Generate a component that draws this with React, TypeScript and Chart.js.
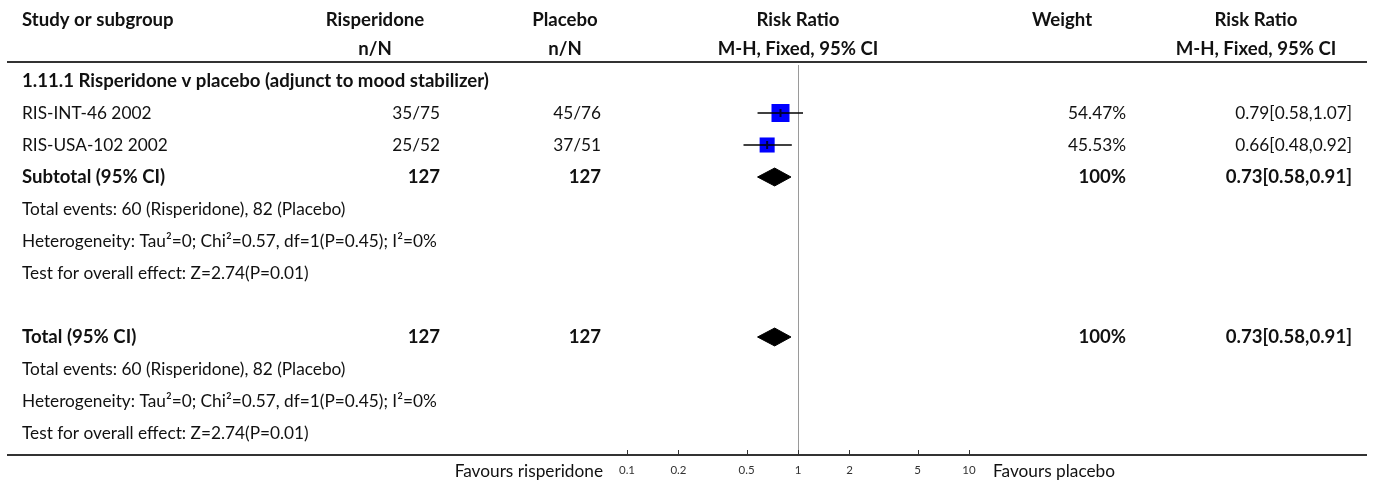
import { useEffect, useRef } from "react";
import { Chart, registerables } from "chart.js";

Chart.register(...registerables);

// ---------------- data ----------------
const headerTop = ["Study or subgroup", "Risperidone", "Placebo", "Risk Ratio", "Weight", "Risk Ratio"];
const headerSub = ["", "n/N", "n/N", "M-H, Fixed, 95% CI", "", "M-H, Fixed, 95% CI"];
const subgroupTitle = "1.11.1 Risperidone v placebo (adjunct to mood stabilizer)";

const studyNames = ["RIS-INT-46 2002", "RIS-USA-102 2002"];
const rispEvents = [35, 25];
const rispTotals = [75, 52];
const placEvents = [45, 37];
const placTotals = [76, 51];
const studyWeights = [54.47, 45.53];
const studyRR = [0.79, 0.66];
const studyLow = [0.58, 0.48];
const studyHigh = [1.07, 0.92];

const pooledLabels = ["Subtotal (95% CI)", "Total (95% CI)"];
const pooledRispN = [127, 127];
const pooledPlacN = [127, 127];
const pooledWeights = [100, 100];
const pooledRR = [0.73, 0.73];
const pooledLow = [0.58, 0.58];
const pooledHigh = [0.91, 0.91];

const summaryLines = [
  "Total events: 60 (Risperidone), 82 (Placebo)",
  "Heterogeneity: Tau\u00b2=0; Chi\u00b2=0.57, df=1(P=0.45); I\u00b2=0%",
  "Test for overall effect: Z=2.74(P=0.01)",
];

const tickValues = [0.1, 0.2, 0.5, 1, 2, 5, 10];
const favoursLabels = ["Favours risperidone", "Favours placebo"];

// ---------------- layout / style ----------------
const W = 1373;
const H = 484;
const FONT = '"Lato", "Noto Sans", sans-serif';
const TEXT_COLOR = "#111111";
const LINE_COLOR = "#333333";
const TITLE_ROW = 0;
const STUDY_ROWS = [1, 2];
const POOLED_ROWS = [3, 8];
const SUMMARY_ROWS = [
  [4, 5, 6],
  [9, 10, 11],
];
const COL_LEFT = 22;
const COL_RISP_RIGHT = 440;
const COL_PLAC_RIGHT = 601;
const COL_WEIGHT_RIGHT = 1126;
const COL_RR_RIGHT = 1352;
const HEADER_CENTERS = [0, 375, 565, 798, 1062, 1256];
const HEADER_Y1 = 20;
const HEADER_Y2 = 49;
const TOP_RULE_Y = 62;
const RULE_X0 = 7;
const RULE_X1 = 1367;
const FAV_LEFT_RIGHT = 603;
const FAV_RIGHT_LEFT = 993;
const FAV_Y = 471;
const TARGET_REG_WIDTH = 415; // width of the heterogeneity line
const TARGET_BOLD_WIDTH = 467; // width of the subgroup title
const BOX_PX_PER_WEIGHT = 18 / 54.47;
const DIAMOND_HALF = 0.28;

let regSize = 0;
let boldSize = 0;
function fitSizes(ctx: CanvasRenderingContext2D) {
  if (regSize) return;
  ctx.save();
  ctx.font = `100px ${FONT}`;
  const w1 = ctx.measureText(summaryLines[1]).width;
  ctx.font = `bold 100px ${FONT}`;
  const w2 = ctx.measureText(subgroupTitle).width;
  ctx.restore();
  regSize = (TARGET_REG_WIDTH / w1) * 100;
  boldSize = (TARGET_BOLD_WIDTH / w2) * 100;
}

const tablePlugin = {
  id: "forestTable",
  afterDraw(chart: any) {
    const ctx: CanvasRenderingContext2D = chart.ctx;
    const ys = chart.scales.y;
    const xs = chart.scales.x;
    const area = chart.chartArea;
    const rowY = (r: number) => ys.getPixelForValue(r);
    fitSizes(ctx);
    const reg = `${regSize.toFixed(2)}px ${FONT}`;
    const bold = `bold ${boldSize.toFixed(2)}px ${FONT}`;

    ctx.save();
    ctx.fillStyle = TEXT_COLOR;
    ctx.textBaseline = "middle";

    const text = (s: string, x: number, y: number, align: CanvasTextAlign, b: boolean) => {
      ctx.font = b ? bold : reg;
      ctx.textAlign = align;
      ctx.fillText(s, x, y);
    };

    // headers
    headerTop.forEach((h, i) => {
      if (i === 0) text(h, COL_LEFT, HEADER_Y1, "left", true);
      else text(h, HEADER_CENTERS[i], HEADER_Y1, "center", true);
    });
    headerSub.forEach((h, i) => {
      if (h) text(h, HEADER_CENTERS[i], HEADER_Y2, "center", true);
    });

    // subgroup title
    text(subgroupTitle, COL_LEFT, rowY(TITLE_ROW), "left", true);

    // studies
    studyNames.forEach((name, i) => {
      const y = rowY(STUDY_ROWS[i]);
      text(name, COL_LEFT, y, "left", false);
      text(`${rispEvents[i]}/${rispTotals[i]}`, COL_RISP_RIGHT, y, "right", false);
      text(`${placEvents[i]}/${placTotals[i]}`, COL_PLAC_RIGHT, y, "right", false);
      text(`${studyWeights[i].toFixed(2)}%`, COL_WEIGHT_RIGHT, y, "right", false);
      text(
        `${studyRR[i].toFixed(2)}[${studyLow[i].toFixed(2)},${studyHigh[i].toFixed(2)}]`,
        COL_RR_RIGHT,
        y,
        "right",
        false
      );
    });

    // pooled rows + summaries
    pooledLabels.forEach((lab, i) => {
      const y = rowY(POOLED_ROWS[i]);
      text(lab, COL_LEFT, y, "left", true);
      text(String(pooledRispN[i]), COL_RISP_RIGHT, y, "right", true);
      text(String(pooledPlacN[i]), COL_PLAC_RIGHT, y, "right", true);
      text(`${pooledWeights[i]}%`, COL_WEIGHT_RIGHT, y, "right", true);
      text(
        `${pooledRR[i].toFixed(2)}[${pooledLow[i].toFixed(2)},${pooledHigh[i].toFixed(2)}]`,
        COL_RR_RIGHT,
        y,
        "right",
        true
      );
      SUMMARY_ROWS[i].forEach((r, j) => text(summaryLines[j], COL_LEFT, rowY(r), "left", false));
    });

    // favours labels
    text(favoursLabels[0], FAV_LEFT_RIGHT, FAV_Y, "right", false);
    text(favoursLabels[1], FAV_RIGHT_LEFT, FAV_Y, "left", false);

    // rules
    ctx.strokeStyle = LINE_COLOR;
    ctx.lineWidth = 2;
    ctx.beginPath();
    ctx.moveTo(RULE_X0, TOP_RULE_Y);
    ctx.lineTo(RULE_X1, TOP_RULE_Y);
    ctx.moveTo(RULE_X0, area.bottom);
    ctx.lineTo(RULE_X1, area.bottom);
    ctx.stroke();

    // tick marks pointing up from axis
    ctx.lineWidth = 1;
    ctx.beginPath();
    tickValues.forEach((v) => {
      const px = Math.round(xs.getPixelForValue(v)) + 0.5;
      ctx.moveTo(px, area.bottom - 5);
      ctx.lineTo(px, area.bottom);
    });
    ctx.stroke();
    ctx.restore();
  },
};

function buildConfig(): any {
  const datasets: any[] = [];

  // confidence interval lines for studies
  studyNames.forEach((_, i) => {
    datasets.push({
      type: "line",
      data: [
        { x: studyLow[i], y: STUDY_ROWS[i] },
        { x: studyHigh[i], y: STUDY_ROWS[i] },
      ],
      borderColor: "#000",
      borderWidth: 1.5,
      pointRadius: 0,
      fill: false,
      order: 1,
    });
  });

  // weighted boxes
  datasets.push({
    type: "scatter",
    data: studyRR.map((v, i) => ({ x: v, y: STUDY_ROWS[i] })),
    pointStyle: "rect",
    pointRadius: studyWeights.map((w) => (w * BOX_PX_PER_WEIGHT) / (2 * Math.SQRT1_2)),
    backgroundColor: "#0000ff",
    borderColor: "#0000ff",
    borderWidth: 0,
    order: 2,
  });

  // point-estimate marks
  datasets.push({
    type: "scatter",
    data: studyRR.map((v, i) => ({ x: v, y: STUDY_ROWS[i] })),
    pointStyle: "line",
    rotation: 90,
    pointRadius: 4,
    borderColor: "#000033",
    borderWidth: 2,
    order: 0,
  });

  // pooled diamonds
  pooledRR.forEach((v, i) => {
    const r = POOLED_ROWS[i];
    datasets.push({
      type: "line",
      data: [
        { x: pooledLow[i], y: r },
        { x: v, y: r - DIAMOND_HALF },
        { x: pooledHigh[i], y: r },
        { x: v, y: r + DIAMOND_HALF },
        { x: pooledLow[i], y: r },
      ],
      borderColor: "#000",
      backgroundColor: "#000",
      borderWidth: 1,
      pointRadius: 0,
      fill: "shape",
      tension: 0,
      order: 1,
    });
  });

  return {
    type: "scatter",
    data: { datasets },
    options: {
      animation: false,
      responsive: false,
      devicePixelRatio: 1,
      events: [],
      layout: { padding: { left: 627, right: W - 969, top: 65, bottom: 0 } },
      plugins: { legend: { display: false }, tooltip: { enabled: false } },
      scales: {
        x: {
          type: "logarithmic",
          min: 0.1,
          max: 10,
          afterBuildTicks: (axis: any) => {
            axis.ticks = tickValues.map((v) => ({ value: v }));
          },
          afterFit: (scale: any) => {
            scale.height = H - 455;
          },
          border: { display: false },
          grid: {
            drawTicks: false,
            lineWidth: 1,
            color: (c: any) => (c.tick && c.tick.value === 1 ? "#9a9a9a" : "rgba(0,0,0,0)"),
          },
          ticks: {
            autoSkip: false,
            maxRotation: 0,
            padding: 8,
            color: "#333",
            font: { family: FONT, size: 11.5 },
            callback: (value: any) => String(value),
          },
        },
        y: {
          type: "linear",
          display: false,
          reverse: true,
          min: -0.5,
          max: 11.6875,
        },
      },
    },
    plugins: [tablePlugin],
  };
}

export default function App() {
  const ref = useRef<HTMLCanvasElement>(null);
  useEffect(() => {
    const canvas = ref.current;
    if (!canvas) return;
    const chart = new Chart(canvas, buildConfig());
    return () => chart.destroy();
  }, []);
  return (
    <div style={{ position: "absolute", left: 0, top: 0, width: W, height: H, background: "#fff" }}>
      <canvas ref={ref} width={W} height={H} style={{ display: "block", width: W, height: H }} />
    </div>
  );
}
